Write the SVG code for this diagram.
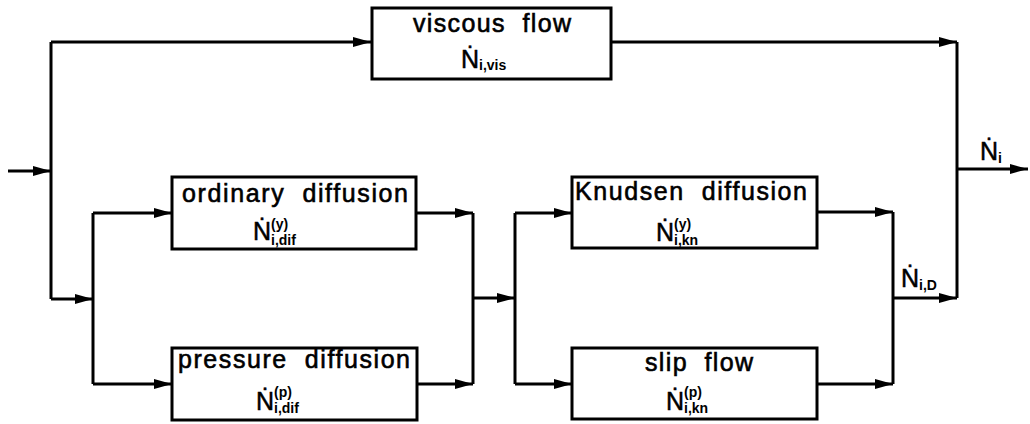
<svg xmlns="http://www.w3.org/2000/svg" width="1030" height="424" viewBox="0 0 1030 424">
  <style>
    .box { fill: #ffffff; stroke: #000000; stroke-width: 3; }
    .wire { fill: none; stroke: #000000; stroke-width: 3; }
    .lbl { font-family: "Liberation Sans", Arial, sans-serif; font-size: 25px; fill: #000000; stroke: #000000; stroke-width: 0.6; white-space: pre; }
    .sym { font-family: "Liberation Sans", Arial, sans-serif; font-size: 25px; fill: #000000; stroke: #000000; stroke-width: 0.5; }
    .idx { font-family: "Liberation Sans", Arial, sans-serif; font-size: 14px; font-weight: bold; fill: #000000; }
  </style>
  <defs>
    <marker id="arrow" markerUnits="userSpaceOnUse" markerWidth="19" markerHeight="10" refX="18" refY="5" orient="auto">
      <path d="M0,0 L18,5 L0,10 Z" fill="#000000"/>
    </marker>
  </defs>
  <rect width="1030" height="424" fill="#ffffff"/>

  <g id="connectors">
    <path class="wire" d="M8,171 H51" marker-end="url(#arrow)"/>
    <path class="wire" d="M51,42 V299"/>
    <path class="wire" d="M51,42 H371" marker-end="url(#arrow)"/>
    <path class="wire" d="M612,42 H957" marker-end="url(#arrow)"/>
    <path class="wire" d="M51,299 H93" marker-end="url(#arrow)"/>
    <path class="wire" d="M93,213 V384"/>
    <path class="wire" d="M93,213 H172" marker-end="url(#arrow)"/>
    <path class="wire" d="M93,384 H172" marker-end="url(#arrow)"/>
    <path class="wire" d="M416,213 H473" marker-end="url(#arrow)"/>
    <path class="wire" d="M417,384 H473" marker-end="url(#arrow)"/>
    <path class="wire" d="M473,213 V384"/>
    <path class="wire" d="M473,298 H515" marker-end="url(#arrow)"/>
    <path class="wire" d="M515,213 V384"/>
    <path class="wire" d="M515,213 H572" marker-end="url(#arrow)"/>
    <path class="wire" d="M515,384 H572" marker-end="url(#arrow)"/>
    <path class="wire" d="M817,212 H893" marker-end="url(#arrow)"/>
    <path class="wire" d="M817,384 H893" marker-end="url(#arrow)"/>
    <path class="wire" d="M893,212 V384"/>
    <path class="wire" d="M893,298 H957" marker-end="url(#arrow)"/>
    <path class="wire" d="M957,42 V298"/>
    <path class="wire" d="M957,169 H1028" marker-end="url(#arrow)"/>
  </g>

  <g id="viscous-flow">
    <rect class="box" x="372" y="8" width="239" height="71"/>
    <text class="lbl" xml:space="preserve" x="492" y="32" text-anchor="middle" textLength="158" lengthAdjust="spacing">viscous  flow</text>
    <text class="sym" x="461" y="68">Ṅ</text>
    <text class="idx" x="479" y="70">i,vis</text>
  </g>

  <g id="ordinary-diffusion">
    <rect class="box" x="172" y="177" width="244" height="72"/>
    <text class="lbl" xml:space="preserve" x="295" y="202" text-anchor="middle" textLength="226" lengthAdjust="spacing">ordinary  diffusion</text>
    <text class="sym" x="253" y="240">Ṅ</text>
    <text class="idx" x="271" y="229">(y)</text>
    <text class="idx" x="271" y="245">i,dif</text>
  </g>

  <g id="pressure-diffusion">
    <rect class="box" x="172" y="348" width="245" height="72"/>
    <text class="lbl" xml:space="preserve" x="294" y="368" text-anchor="middle" textLength="232" lengthAdjust="spacing">pressure  diffusion</text>
    <text class="sym" x="256" y="410">Ṅ</text>
    <text class="idx" x="274" y="397">(p)</text>
    <text class="idx" x="274" y="413">i,dif</text>
  </g>

  <g id="knudsen-diffusion">
    <rect class="box" x="572" y="177" width="245" height="71"/>
    <text class="lbl" xml:space="preserve" x="691" y="200" text-anchor="middle" textLength="232" lengthAdjust="spacing">Knudsen  diffusion</text>
    <text class="sym" x="656" y="241">Ṅ</text>
    <text class="idx" x="674" y="229">(y)</text>
    <text class="idx" x="674" y="245">i,kn</text>
  </g>

  <g id="slip-flow">
    <rect class="box" x="572" y="348" width="245" height="71"/>
    <text class="lbl" xml:space="preserve" x="699" y="371" text-anchor="middle" textLength="108" lengthAdjust="spacing">slip  flow</text>
    <text class="sym" x="666" y="410">Ṅ</text>
    <text class="idx" x="684" y="397">(p)</text>
    <text class="idx" x="684" y="413">i,kn</text>
  </g>

  <g id="flux-labels">
    <text class="sym" x="980" y="160">Ṅ</text>
    <text class="idx" x="998" y="163">i</text>
    <text class="sym" x="901" y="287">Ṅ</text>
    <text class="idx" x="919" y="290">i,D</text>
  </g>
</svg>
